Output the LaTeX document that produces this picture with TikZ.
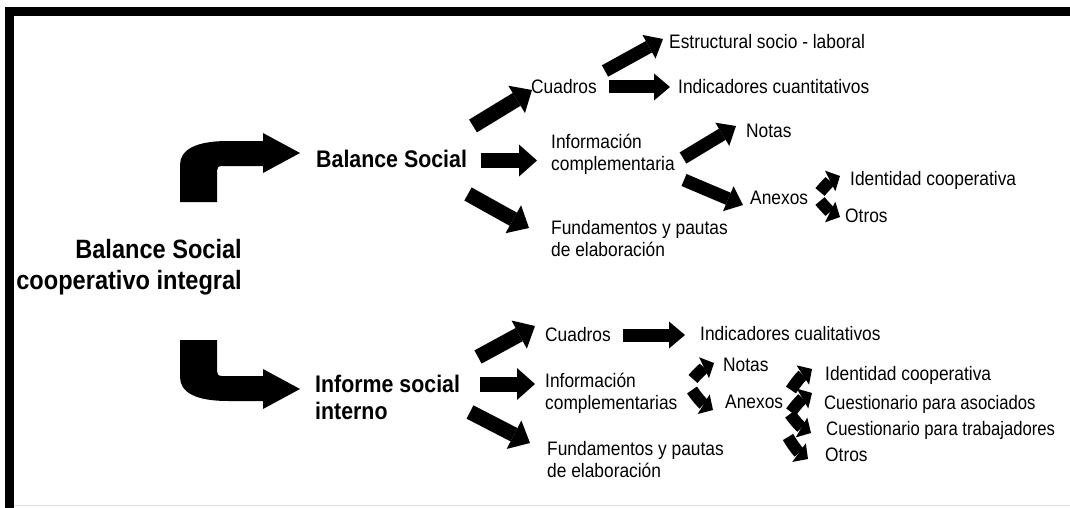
\documentclass[tikz,border=0pt]{standalone}
\usepackage{fontspec}
\setmainfont{Liberation Sans}[FakeStretch=0.89]
\newfontfamily\narrowerfont{Liberation Sans}[FakeStretch=0.855]
\usetikzlibrary{arrows.meta}
\begin{document}
\begin{tikzpicture}[x=1pt,y=-1pt,
  lbl/.style={anchor=north west, inner sep=0pt, align=left, font=\fontsize{19.5}{22}\selectfont},
  lblnarrow/.style={lbl, font=\narrowerfont\fontsize{19.5}{22}\selectfont},
  ttl/.style={anchor=north west, inner sep=0pt, align=left, font=\bfseries\fontsize{24}{27}\selectfont},
  fatarr/.style={line width=15pt, -{Triangle[length=18pt,width=32pt,line width=0pt]}},
  midarr/.style={line width=13pt, -{Triangle[length=16pt,width=27pt,line width=0pt]}},
  tinyarr/.style={line width=12pt, -{Triangle[length=11pt,width=23pt,line width=0pt]}},
  bigshape/.style={fill=black},
]
\useasboundingbox (0,0) rectangle (1070,508);
\fill[white] (0,0) rectangle (1070,508);
% frame
\fill (5,7) rectangle (1070,16);
\fill (5,7) rectangle (14,508);
\draw[black!12, line width=1pt] (14,505.5) -- (1070,505.5);

% root
\node[anchor=north east, inner sep=0pt, align=right, font=\bfseries\fontsize{26.5}{31}\selectfont] (root) at (242,239.2) {Balance Social\\cooperativo integral};

% upper branch
\node[ttl] (bs1) at (316,149.6) {Balance Social};
\node[lbl] (cu1) at (531,78.7) {Cuadros};
\node[lbl] (es1) at (669,33.7) {Estructural socio - laboral};
\node[lbl] (ic1) at (678,79.2) {Indicadores cuantitativos};
\node[lbl] (in1) at (551,133.7) {Información\\complementaria};
\node[lbl] (no1) at (746,123.7) {Notas};
\node[lbl] (an1) at (750,190.7) {Anexos};
\node[lbl] (id1) at (850,170.7) {Identidad cooperativa};
\node[lbl] (ot1) at (845,208.7) {Otros};
\node[lbl] (fu1) at (551,219.7) {Fundamentos y pautas\\de elaboración};

% lower branch
\node[ttl] (is2) at (315,375.1) {Informe social\\interno};
\node[lbl] (cu2) at (545,326.7) {Cuadros};
\node[lbl] (ic2) at (700,325.7) {Indicadores cualitativos};
\node[lbl] (in2) at (545,372.7) {Información\\complementarias};
\node[lbl] (no2) at (723,357.7) {Notas};
\node[lbl] (an2) at (725,394.7) {Anexos};
\node[lbl] (id2) at (825,365.7) {Identidad cooperativa};
\node[lblnarrow] (ca2) at (824,394.7) {Cuestionario para asociados};
\node[lblnarrow] (ct2) at (826,420.7) {Cuestionario para trabajadores};
\node[lbl] (ot2) at (825,447.7) {Otros};
\node[lbl] (fu2) at (547,440.7) {Fundamentos y pautas\\de elaboración};

% big curved arrows (root -> bs1, root -> is2)
\coordinate (rootUp) at (198,202);
\coordinate (rootDn) at (198,340);
\begin{scope}[shift={(rootUp)}]
\fill[bigshape] (-18,0) -- (-18,-37) .. controls (-18,-52) and (-3,-61) .. (30,-61) -- (65,-61) -- (65,-69) -- (102,-49) -- (65,-29) -- (65,-36) -- (24,-36) .. controls (20,-36) and (19,-34) .. (19,-31) -- (19,0) -- cycle;
\end{scope}
\begin{scope}[shift={(rootDn)}, yscale=-1]
\fill[bigshape] (-18,0) -- (-18,-37) .. controls (-18,-52) and (-3,-61) .. (30,-61) -- (65,-61) -- (65,-69) -- (102,-49) -- (65,-29) -- (65,-36) -- (24,-36) .. controls (20,-36) and (19,-34) .. (19,-31) -- (19,0) -- cycle;
\end{scope}

% arrow end points
\coordinate (a1s) at (473,126); \coordinate (a1e) at (532,90);
\coordinate (a2s) at (481,160.5); \coordinate (a2e) at (537,160.5);
\coordinate (a3s) at (468,194); \coordinate (a3e) at (529,228);
\coordinate (a4s) at (605,71);  \coordinate (a4e) at (663,39);
\coordinate (a5s) at (609,87);  \coordinate (a5e) at (670,87);
\coordinate (a6s) at (683,158); \coordinate (a6e) at (736,126);
\coordinate (a7s) at (684,180); \coordinate (a7e) at (743,205);
\coordinate (a8s) at (820,192); \coordinate (a8e) at (840,176);
\coordinate (a9s) at (820,201); \coordinate (a9e) at (840,217);

\coordinate (b1s) at (478,357); \coordinate (b1e) at (535,326);
\coordinate (b2s) at (480,384); \coordinate (b2e) at (535,384);
\coordinate (b3s) at (470,412); \coordinate (b3e) at (530,443);
\coordinate (b4s) at (623,335); \coordinate (b4e) at (685,335);
\coordinate (b5s) at (693,379); \coordinate (b5e) at (714,363);
\coordinate (b6s) at (692,390); \coordinate (b6e) at (713,410);
\coordinate (b7s) at (791,390); \coordinate (b7e) at (812,369);
\coordinate (b8s) at (791,412); \coordinate (b8e) at (812,393);
\coordinate (b9s) at (790,414); \coordinate (b9e) at (811,433);
\coordinate (b10s) at (788,437); \coordinate (b10e) at (808,459);

% upper arrows
\draw[fatarr] (a1s) -- (a1e);
\draw[fatarr] (a2s) -- (a2e);
\draw[fatarr] (a3s) -- (a3e);
\draw[midarr] (a4s) -- (a4e);
\draw[midarr] (a5s) -- (a5e);
\draw[midarr] (a6s) -- (a6e);
\draw[midarr] (a7s) -- (a7e);
\draw[tinyarr] (a8s) to[bend left=12] (a8e);
\draw[tinyarr] (a9s) to[bend right=12] (a9e);

% lower arrows
\draw[fatarr] (b1s) -- (b1e);
\draw[fatarr] (b2s) -- (b2e);
\draw[fatarr] (b3s) -- (b3e);
\draw[midarr] (b4s) -- (b4e);
\draw[tinyarr] (b5s) to[bend left=12] (b5e);
\draw[tinyarr] (b6s) to[bend right=12] (b6e);
\draw[tinyarr] (b7s) to[bend left=12] (b7e);
\draw[tinyarr] (b8s) to[bend left=12] (b8e);
\draw[tinyarr] (b9s) to[bend right=12] (b9e);
\draw[tinyarr] (b10s) to[bend right=12] (b10e);
\end{tikzpicture}
\end{document}
